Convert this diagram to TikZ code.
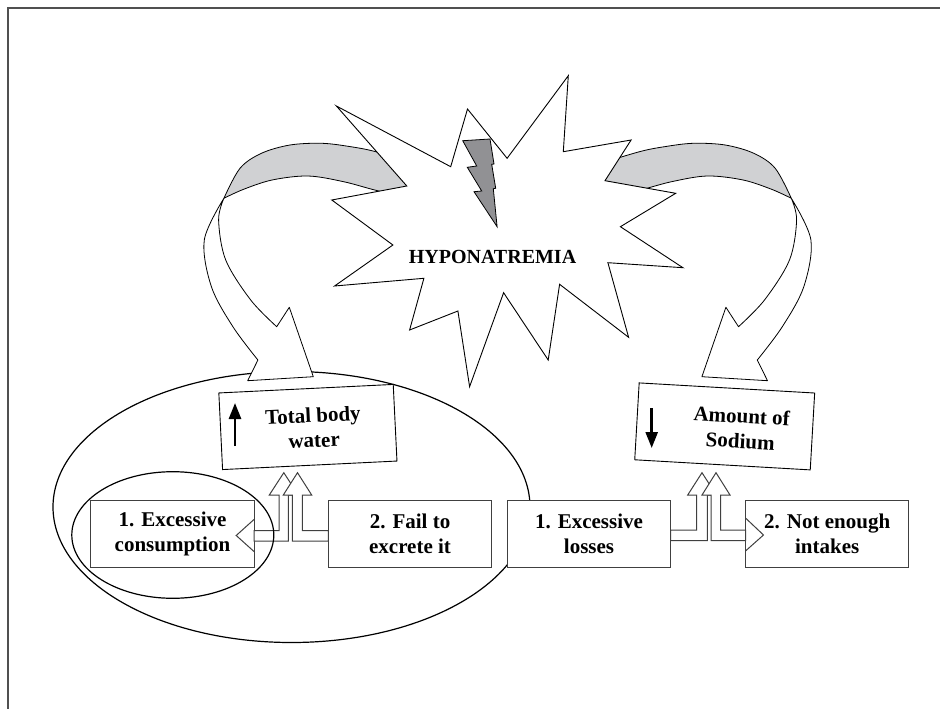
\documentclass[tikz,border=0pt]{standalone}
\usepackage{fontspec}
\setmainfont{Liberation Serif}
\usetikzlibrary{arrows.meta,calc}
\definecolor{bandgray}{RGB}{208,209,211}
\definecolor{boltgray}{RGB}{145,145,148}
\definecolor{framegray}{RGB}{80,80,80}
\newcommand\dgboxfont{\bfseries\fontsize{21pt}{25pt}\selectfont}
\newcommand\dgcurvedarrow{%
  \filldraw[bandline, fill=bandgray]
    plot[smooth, tension=0.55] coordinates {(420,165) (375.7,151.7) (350.7,146.7) (322,143.3) (290,145) (261.4,153.3) (240,168.3) (223.9,198.3)}
    -- plot[smooth, tension=0.55] coordinates {(223.9,198.3) (243.6,189.3) (272.1,180) (307.9,176) (343.6,181.7) (377.5,190.7) (420,200)}
    -- cycle;
  \filldraw[bandline, fill=white]
    plot[smooth, tension=0.55] coordinates {(223.9,198.3) (204.3,240) (211.4,286.7) (232.9,326.7) (257.9,360)}
    -- (247.7,380.7) -- (313.3,376.7) -- (289.3,307.3) -- (276.7,326.7)
    -- plot[smooth, tension=0.55] coordinates {(276.7,326.7) (250.7,300) (225.7,260) (218.6,220) (223.9,198.3)}
    -- cycle;
}
\begin{document}
\begin{tikzpicture}[x=1pt,y=-1pt,
  bandline/.style={draw=black, line width=0.8pt, line join=round},
  boxstyle/.style={draw=black!75, line width=1.1pt, fill=white, inner sep=0pt, outer sep=0pt,
    minimum width=163.4pt, minimum height=67pt, align=center, font=\dgboxfont},
  tiltbox/.style={draw=black, line width=0.9pt, fill=white, inner sep=0pt, outer sep=0pt},
  tilttext/.style={align=center, font=\dgboxfont, inner sep=0pt},
  hollow/.style={draw=black!75, line width=1pt, fill=white, line join=miter},
  ring/.style={draw=black, line width=1.2pt},
  updown/.style={line width=2.6pt, -{Triangle[length=16pt,width=12pt]}}]
\useasboundingbox (0,0) rectangle (940,709);
% frame
\draw[framegray, line width=1.8pt] (8,709) -- (8,8) -- (940,8);
% big ellipse
\draw[ring] (291.5,507) ellipse [x radius=238.5pt, y radius=135.5pt];
% curved arrows
\dgcurvedarrow
\begin{scope}[shift={(1015.2,0)}, xscale=-1]
\dgcurvedarrow
\end{scope}
% starburst
\filldraw[draw=black, line width=0.9pt, fill=white, line join=miter]
  (336.4,106) -- (450.7,166.7) -- (467.5,109) -- (507.1,158.3) -- (568.3,75.7)
  -- (563.3,151.7) -- (631.1,140) -- (605,180.7) -- (675.7,193.3) -- (620.4,226.7)
  -- (682.9,267.7) -- (607.9,262.7) -- (628.6,337.3) -- (559.6,284.3) -- (548.2,360)
  -- (503.6,292.7) -- (469.6,386.7) -- (457.9,311) -- (409.6,330) -- (423.9,278.3)
  -- (334.6,286) -- (392.9,245) -- (331.8,200) -- (406.8,186) -- cycle;
% lightning bolt
\filldraw[draw=black, line width=0.8pt, fill=boltgray]
  (462.7,140.7) -- (490,139) -- (494,164) -- (491.7,164.3) -- (495.7,188.3)
  -- (493.3,188.7) -- (497.1,226.7) -- (474,191.7) -- (481.7,191) -- (467.3,167.3)
  -- (476.7,166) -- cycle;
\node[font=\bfseries\fontsize{20pt}{24pt}\selectfont, inner sep=0pt] (hypo) at (492.5,256.5) {HYPONATREMIA};
% tilted boxes
\node[tiltbox, minimum width=174.6pt, minimum height=76.7pt, rotate=2.8] (tbw) at (307.9,427) {};
\node[tilttext, rotate=2.8] (tbwt) at (313.5,427.7) {Total body\\water};
\draw[updown] (235,446) -- (235,403);
\node[tiltbox, minimum width=175.8pt, minimum height=77pt, rotate=-3.3] (sod) at (724.7,426.4) {};
\node[tilttext, rotate=-3.3] (sodt) at (741,428.3) {Amount of\\Sodium};
\draw[updown] (651.7,408) -- (651.7,448);
% bottom boxes
\node[boxstyle] (c1) at (172.5,534.2) {1. Excessive\\consumption};
\node[boxstyle] (c2) at (410,534.2) {2. Fail to\\excrete it};
\node[boxstyle] (l1) at (589,534.2) {1. Excessive\\losses};
\node[boxstyle] (l2) at (827.2,534.2) {2. Not enough\\intakes};
% hollow arrows, left pair
\draw[hollow] ($(c1.east)+(0,-3.5)$) -- (279,530.7) -- (279,495) -- (269.3,495) -- (283.8,472.7)
  -- (298.3,495) -- (288.3,495) -- (288.3,541) -- ($(c1.east)+(0,6.8)$) -- cycle;
\draw[hollow] ($(c2.west)+(0,-3.5)$) -- (302.3,530.7) -- (302.3,495) -- (311.7,495) -- (297.5,472.7)
  -- (283.3,495) -- (292.3,495) -- (292.3,541) -- ($(c2.west)+(0,6.8)$) -- cycle;
\draw[hollow, fill=none] ($(c1.east)+(0,-14.9)$) -- ($(c1.east)+(-18,1.3)$) -- ($(c1.east)+(0,17.5)$);
% hollow arrows, right pair
\draw[hollow] ($(l1.east)+(0,-4.2)$) -- (696.7,530) -- (696.7,495) -- (687.7,495) -- (702,472.7)
  -- (716.3,495) -- (707.3,495) -- (707.3,540.7) -- ($(l1.east)+(0,6.5)$) -- cycle;
\draw[hollow] ($(l2.west)+(0,-4.2)$) -- (720.7,530) -- (720.7,495) -- (730,495) -- (716,472.7)
  -- (702,495) -- (711,495) -- (711,540.7) -- ($(l2.west)+(0,6.5)$) -- cycle;
\draw[hollow, fill=none] ($(l2.west)+(0,-16.2)$) -- ($(l2.west)+(18,0.8)$) -- ($(l2.west)+(0,16.8)$);
% small ellipse
\draw[ring] (172.8,535) ellipse [x radius=101pt, y radius=63.3pt];
\end{tikzpicture}
\end{document}
